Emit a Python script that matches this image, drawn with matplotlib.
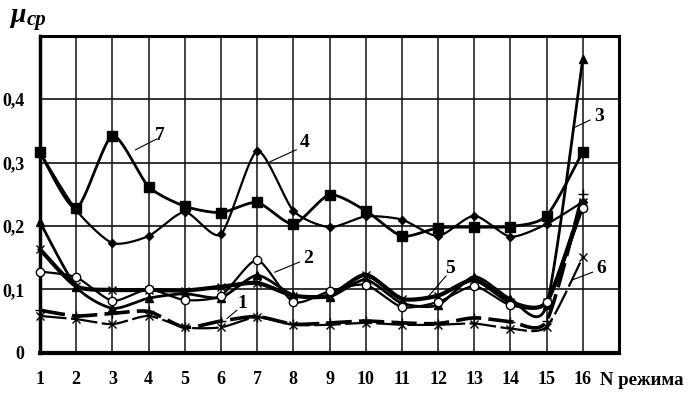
import numpy as np
import matplotlib
matplotlib.use("Agg")
import matplotlib.pyplot as plt

# ---- data ----
modes = list(range(1, 17))
x_ticks = [str(i) for i in modes]
y_ticks = [0, 0.1, 0.2, 0.3, 0.4]
y_tick_labels = ["0", "0,1", "0,2", "0,3", "0,4"]

s7 = [0.316, 0.228, 0.342, 0.262, 0.231, 0.221, 0.237, 0.203, 0.249, 0.224,
      0.184, 0.197, 0.198, 0.199, 0.216, 0.317]
s4 = [0.316, 0.225, 0.173, 0.184, 0.222, 0.187, 0.318, 0.224, 0.198, 0.215,
      0.210, 0.184, 0.216, 0.183, 0.203, 0.238]
s3 = [0.206, 0.104, 0.070, 0.086, 0.093, 0.087, 0.122, 0.091, 0.088, 0.115,
      0.078, 0.075, 0.120, 0.085, 0.075, 0.464]
s2 = [0.128, 0.119, 0.082, 0.100, 0.083, 0.090, 0.146, 0.080, 0.097, 0.107,
      0.072, 0.080, 0.105, 0.075, 0.080, 0.228]
s5 = [0.163, 0.105, 0.099, 0.099, 0.098, 0.104, 0.110, 0.090, 0.090, 0.123,
      0.085, 0.090, 0.115, 0.080, 0.080, 0.237]
s1 = [0.067, 0.058, 0.062, 0.065, 0.040, 0.050, 0.057, 0.045, 0.047, 0.050,
      0.047, 0.046, 0.055, 0.049, 0.050, 0.251]
s6 = [0.058, 0.053, 0.045, 0.058, 0.040, 0.040, 0.056, 0.044, 0.044, 0.047,
      0.044, 0.044, 0.046, 0.038, 0.041, 0.151]

labels = {
    "7": ((4.31, 0.343), (4.22, 0.337), (3.64, 0.320)),
    "4": ((8.32, 0.331), (8.08, 0.320), (7.35, 0.301)),
    "3": ((16.44, 0.373), (16.2, 0.367), (15.72, 0.354)),
    "2": ((8.40, 0.149), (8.17, 0.143), (7.49, 0.127)),
    "5": ((12.33, 0.133), (12.22, 0.121), (11.72, 0.088)),
    "6": ((16.50, 0.133), (16.27, 0.127), (15.72, 0.115)),
    "1": ((6.60, 0.078), (6.44, 0.067), (6.17, 0.054)),
}


def smooth(xs, ys, n=24, k=0.35):
    """Cardinal-spline rendering of the polyline through the data points."""
    P = np.column_stack([np.asarray(xs, float), np.asarray(ys, float)])
    m = len(P)
    T = np.zeros_like(P)
    T[1:-1] = k * (P[2:] - P[:-2])
    T[0] = k * (P[1] - P[0])
    T[-1] = k * (P[-1] - P[-2])
    t = np.linspace(0, 1, n, endpoint=False)[:, None]
    h00 = 2 * t ** 3 - 3 * t ** 2 + 1
    h10 = t ** 3 - 2 * t ** 2 + t
    h01 = -2 * t ** 3 + 3 * t ** 2
    h11 = t ** 3 - t ** 2
    out = []
    for i in range(m - 1):
        out.append(h00 * P[i] + h10 * T[i] + h01 * P[i + 1] + h11 * T[i + 1])
    out.append(P[-1][None, :])
    out = np.vstack(out)
    return out[:, 0], out[:, 1]


serif = "Liberation Serif"
plt.rcParams["font.family"] = [serif, "DejaVu Serif"]

fig = plt.figure(figsize=(6.96, 3.95), dpi=100)
ax = fig.add_axes([40 / 696, 1 - 352.7 / 395, 579 / 696, 317 / 395])
ax.set_xlim(1, 17)
ax.set_ylim(0, 0.5)

ax.set_xticks(modes)
ax.set_xticklabels(x_ticks)
ax.set_yticks(y_ticks)
ax.set_yticklabels(y_tick_labels)
for lab in ax.get_xticklabels() + ax.get_yticklabels():
    lab.set_fontweight("bold")
    lab.set_fontsize(13)
ax.tick_params(length=0, pad=11)
ax.tick_params(axis="x", pad=13)

for v in modes[1:]:
    ax.axvline(v, color="#222222", lw=1.2, zorder=1)
for v in y_ticks[1:]:
    ax.axhline(v, color="#111111", lw=1.2, zorder=1)

for side, lw in (("left", 2.5), ("bottom", 3.0), ("top", 2.2), ("right", 2.2)):
    ax.spines[side].set_linewidth(lw)
    ax.spines[side].set_color("black")


def draw(y, lw, marker, ms, mfc="black", mew=1.0, dashes=None, z=3):
    sx, sy = smooth(modes, y)
    line, = ax.plot(sx, sy, color="black", lw=lw, zorder=z, clip_on=False)
    if dashes is not None:
        line.set_dashes(dashes)
    ax.plot(modes, y, ls="none", marker=marker, ms=ms, mfc=mfc, mec="black",
            mew=mew, zorder=z + 1, clip_on=False)


draw(s7, 2.0, "s", 6.5)
draw(s4, 1.6, "D", 4.0)
draw(s5, 3.0, "x", 6.0)
draw(s3, 2.0, "^", 6.0)
draw(s2, 1.6, "o", 6.0, mfc="white")
draw(s1, 2.6, "+", 7.0, dashes=(7, 2))
draw(s6, 1.6, "x", 6.0, dashes=(12, 2))

for txt, (tpos, l0, l1) in labels.items():
    ax.text(tpos[0], tpos[1], txt, fontsize=14, fontweight="bold",
            ha="center", va="center", zorder=6)
    ax.plot([l0[0], l1[0]], [l0[1], l1[1]], color="black", lw=0.8, zorder=6)

fig.text(10 / 696, 1 - 22 / 395, "μ", fontsize=20, fontweight="bold",
         fontstyle="italic", ha="left", va="baseline")
fig.text(27 / 696, 1 - 25 / 395, "ср", fontsize=15, fontweight="bold",
         fontstyle="italic", ha="left", va="baseline")
fig.text(600 / 696, 1 - 385 / 395, "N режима", fontsize=13.5, fontweight="bold",
         ha="left", va="baseline")

fig.savefig("out.png", dpi=100)
